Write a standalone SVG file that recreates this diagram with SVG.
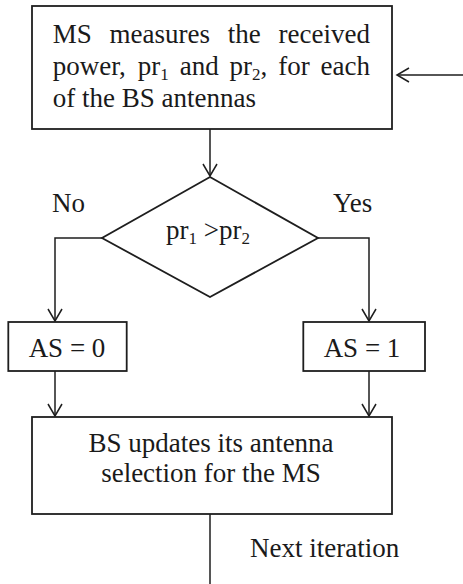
<svg xmlns="http://www.w3.org/2000/svg" width="463" height="584" viewBox="0 0 463 584">
<defs>
<marker id="arr" markerWidth="16" markerHeight="16" refX="13" refY="8" orient="auto" markerUnits="userSpaceOnUse">
<path d="M1,1 L13,8 L1,15" fill="none" stroke="#1e1e1e" stroke-width="1.5"/>
</marker>
<style>
.box{fill:#fff;stroke:#1e1e1e;stroke-width:1.8}
.ln{fill:none;stroke:#1e1e1e;stroke-width:1.5}
.t{font-family:"Liberation Serif","Times New Roman",serif;font-size:27px;fill:#1a1a1a}
.sub{font-size:17px}
</style>
</defs>
<rect width="463" height="584" fill="#fff"/>
<g id="connectors">
<line class="ln" x1="463" y1="75" x2="397" y2="75" marker-end="url(#arr)"/>
<line class="ln" x1="210" y1="129" x2="210" y2="176" marker-end="url(#arr)"/>
<polyline class="ln" points="102,238 55,238 55,321" marker-end="url(#arr)"/>
<polyline class="ln" points="318,238 369,238 369,321" marker-end="url(#arr)"/>
<line class="ln" x1="55" y1="371" x2="55" y2="416" marker-end="url(#arr)"/>
<line class="ln" x1="369" y1="371" x2="369" y2="416" marker-end="url(#arr)"/>
<line class="ln" x1="210" y1="514" x2="210" y2="584"/>
<text class="t" x="250" y="557">Next iteration</text>
<text class="t" x="52" y="212">No</text>
<text class="t" x="333" y="212">Yes</text>
</g>
<g id="measure">
<rect class="box" x="32" y="6" width="360" height="123"/>
<text class="t" y="43"><tspan x="52.7">MS</tspan><tspan x="109.5">measures</tspan><tspan x="227.8">the</tspan><tspan x="278.6">received</tspan></text>
<text class="t" y="75"><tspan x="52.7">power,</tspan><tspan x="137.8">pr</tspan><tspan class="sub" dy="5">1</tspan><tspan x="179.7" dy="-5">and</tspan><tspan x="229.6">pr</tspan><tspan class="sub" dy="5">2</tspan><tspan dy="-5">,</tspan><tspan x="278.2">for</tspan><tspan x="320.6">each</tspan></text>
<text class="t" x="52.7" y="107">of the BS antennas</text>
</g>
<g id="decision">
<polygon class="box" points="210,177 318,238 210,297 102,238"/>
<text class="t" x="166" y="239">pr<tspan class="sub" dy="5">1</tspan><tspan dy="-5"> &gt;pr</tspan><tspan class="sub" dy="5">2</tspan></text>
</g>
<g id="as0">
<rect class="box" x="8.3" y="322" width="118.4" height="49"/>
<text class="t" x="67" y="357" text-anchor="middle">AS = 0</text>
</g>
<g id="as1">
<rect class="box" x="303.3" y="322" width="121.7" height="49"/>
<text class="t" x="362" y="357" text-anchor="middle">AS = 1</text>
</g>
<g id="update">
<rect class="box" x="32" y="417" width="360" height="97"/>
<text class="t" x="211" y="452" text-anchor="middle">BS updates its antenna</text>
<text class="t" x="211" y="482" text-anchor="middle">selection for the MS</text>
</g>
</svg>
